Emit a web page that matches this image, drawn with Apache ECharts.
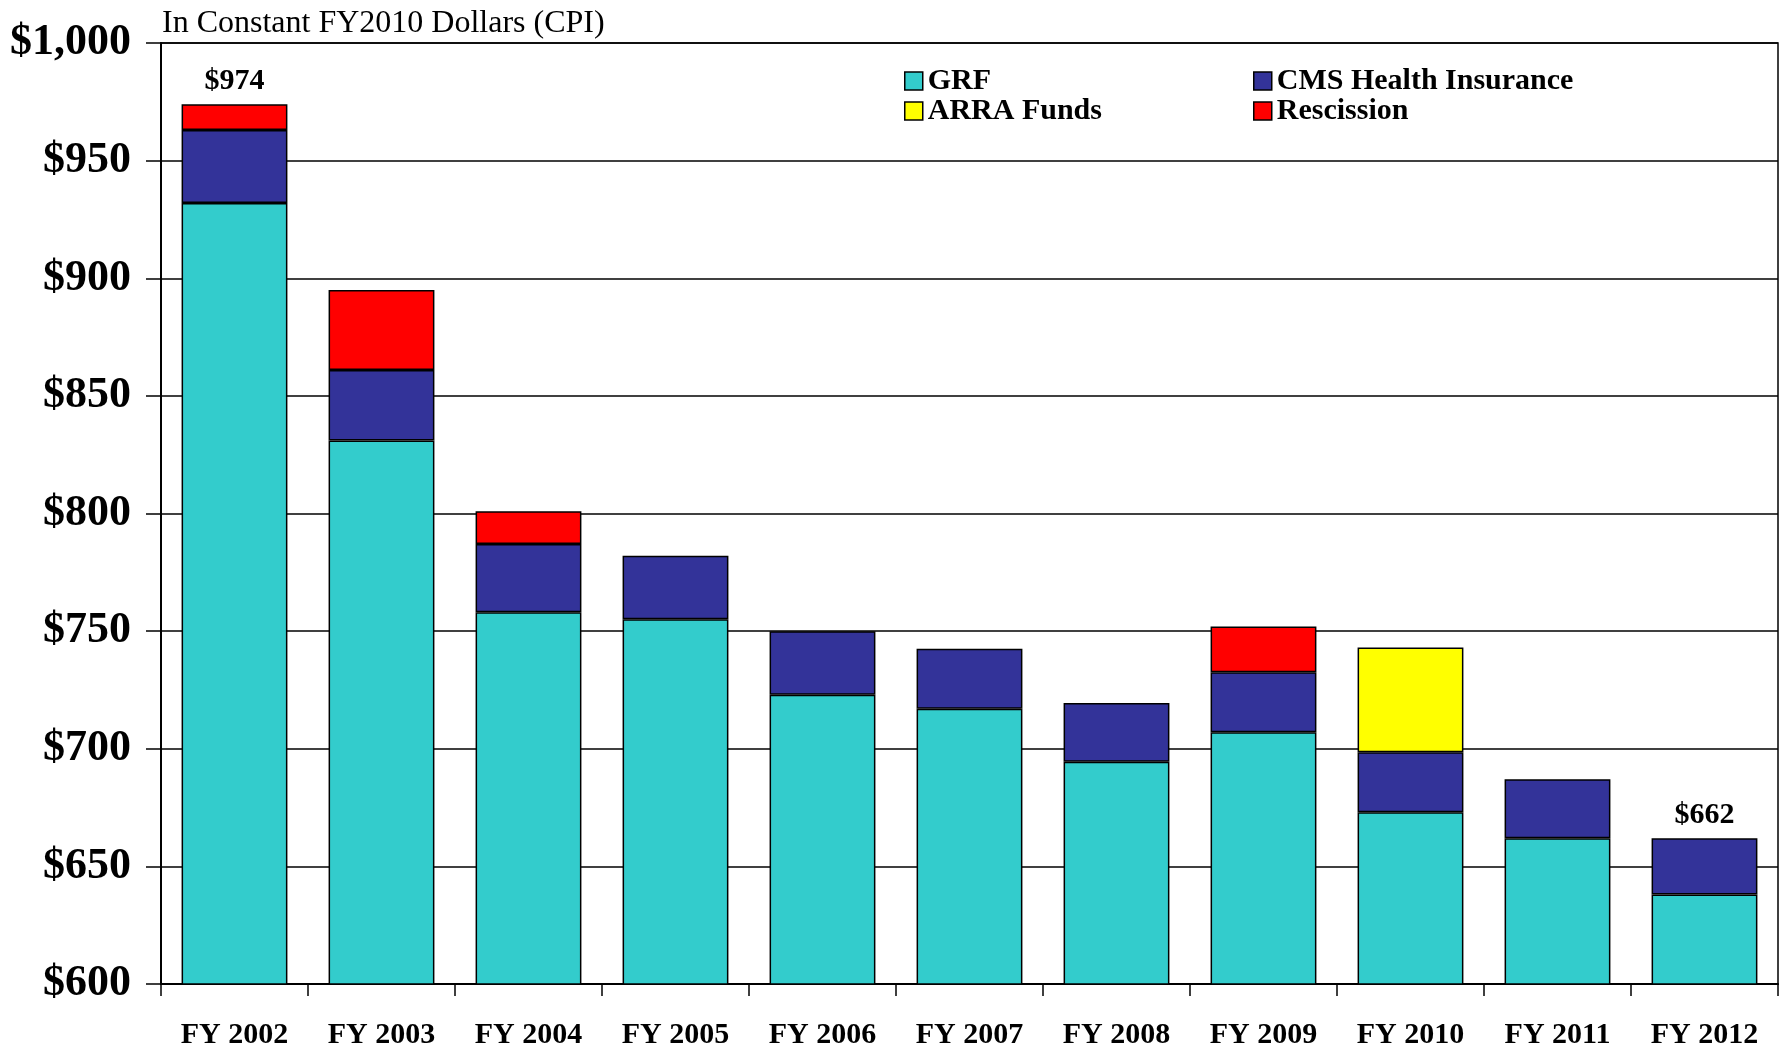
<!DOCTYPE html>
<html>
<head>
<meta charset="utf-8">
<script src="https://cdn.jsdelivr.net/npm/echarts@6/dist/echarts.min.js"></script>
<style>
  html, body { margin: 0; padding: 0; background: #fff; }
  #chart { width: 1787px; height: 1048px; }
</style>
</head>
<body>
<div id="chart"></div>
<script>
var years = ['FY 2002', 'FY 2003', 'FY 2004', 'FY 2005', 'FY 2006', 'FY 2007',
             'FY 2008', 'FY 2009', 'FY 2010', 'FY 2011', 'FY 2012'];
var grf        = [932, 831, 758, 755, 723, 717, 694.5, 707, 673, 662, 638];
var cms        = [31, 30, 29, 27, 27, 25.5, 25, 25.5, 25.5, 25, 24];
var arra       = [null, null, null, null, null, null, null, null, 44.5, null, null];
var rescission = [11, 34, 14, null, null, null, null, 19.5, null, null, null];
var labeled    = [0, 10];   // bars that get a total above them

var font = 'Liberation Serif';
var seriesList = [
    {name: 'GRF', values: grf, color: '#33CCCC'},
    {name: 'CMS Health Insurance', values: cms, color: '#333399'},
    {name: 'ARRA Funds', values: arra, color: '#FFFF00'},
    {name: 'Rescission', values: rescission, color: '#FF0000'}
];

// which series is on top of each bar, plus totals
var topSeries = [], totals = [];
years.forEach(function(y, i){
    var t = 0, top = 0;
    seriesList.forEach(function(s, k){
        if (s.values[i] != null) { t += s.values[i]; top = k; }
    });
    totals.push(t); topSeries.push(top);
});

var series = seriesList.map(function(s, k){
    return {
        name: s.name,
        type: 'bar',
        stack: 'total',
        barCategoryGap: '28%',
        itemStyle: {color: s.color, borderColor: '#000', borderWidth: 1.5},
        data: s.values.map(function(v, i){
            if (v == null) return '-';
            if (labeled.indexOf(i) >= 0 && topSeries[i] === k) {
                return {
                    value: v,
                    label: {
                        show: true, position: 'top', distance: 8,
                        formatter: '$' + Math.round(totals[i]),
                        fontFamily: font, fontWeight: 'bold', fontSize: 30, color: '#000'
                    }
                };
            }
            return v;
        })
    };
});

var chart = echarts.init(document.getElementById('chart'));
var legendText = {fontFamily: font, fontWeight: 'bold', fontSize: 30, color: '#000', lineHeight: 30};
var option = {
    animation: false,
    title: {
        text: 'In Constant FY2010 Dollars (CPI)',
        left: 157, top: 3,
        textStyle: {fontFamily: font, fontWeight: 'normal', fontSize: 32, color: '#000'}
    },
    legend: [{
        orient: 'vertical', left: 899, top: 61,
        itemWidth: 18, itemHeight: 18, itemGap: 0,
        icon: 'rect',
        itemStyle: {borderColor: '#000', borderWidth: 1.5},
        textStyle: legendText,
        data: ['GRF', 'ARRA Funds']
    }, {
        orient: 'vertical', left: 1248, top: 61,
        itemWidth: 18, itemHeight: 18, itemGap: 0,
        icon: 'rect',
        itemStyle: {borderColor: '#000', borderWidth: 1.5},
        textStyle: legendText,
        data: ['CMS Health Insurance', 'Rescission']
    }],
    grid: {
        left: 161, right: 9, top: 43, bottom: 64,
        outerBoundsMode: 'none', containLabel: false,
        show: true, borderColor: '#000', borderWidth: 1.5
    },
    xAxis: {
        type: 'category',
        data: years,
        axisLine: {lineStyle: {color: '#000', width: 2}},
        axisTick: {show: true, inside: false, length: 12, lineStyle: {color: '#000', width: 1.5}},
        axisLabel: {margin: 36, fontFamily: font, fontWeight: 'bold', fontSize: 30, color: '#000'}
    },
    yAxis: {
        type: 'value',
        min: 600, max: 1000, interval: 50,
        axisLine: {show: true, lineStyle: {color: '#000', width: 2}},
        axisTick: {show: true, inside: false, length: 15, lineStyle: {color: '#000', width: 1.5}},
        splitLine: {lineStyle: {color: '#000', width: 1.5}},
        axisLabel: {
            margin: 30, fontFamily: font, fontWeight: 'bold', fontSize: 44, color: '#000',
            formatter: function(v){ return '$' + v.toLocaleString('en-US'); }
        }
    },
    series: series
};
chart.setOption(option);
</script>
</body>
</html>
